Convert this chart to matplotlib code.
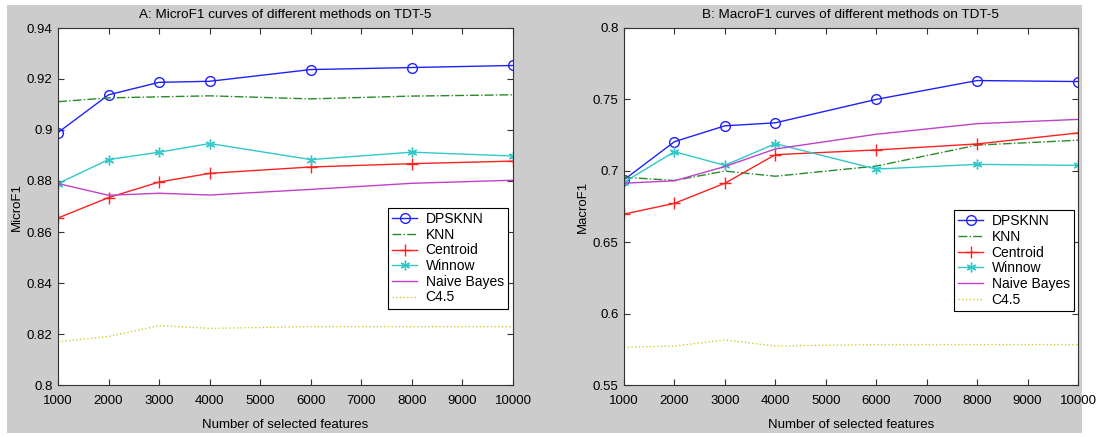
import matplotlib
matplotlib.use('Agg')
import matplotlib.pyplot as plt
from matplotlib.patches import Rectangle

plt.rcParams['font.family'] = ['Liberation Sans', 'DejaVu Sans']

features = [1000, 2000, 3000, 4000, 6000, 8000, 10000]
methods = ['DPSKNN', 'KNN', 'Centroid', 'Winnow', 'Naive Bayes', 'C4.5']

micro_dpsknn = [0.899, 0.9138, 0.9187, 0.9191, 0.9237, 0.9245, 0.9253]
micro_knn = [0.9111, 0.9126, 0.913, 0.9134, 0.9122, 0.9133, 0.9138]
micro_centroid = [0.8655, 0.8735, 0.8796, 0.883, 0.8855, 0.8868, 0.8878]
micro_winnow = [0.879, 0.8884, 0.8913, 0.8947, 0.8884, 0.8913, 0.8898]
micro_nb = [0.879, 0.8744, 0.8752, 0.8745, 0.8767, 0.8791, 0.8803]
micro_c45 = [0.817, 0.819, 0.8233, 0.8222, 0.8229, 0.8229, 0.8229]

macro_dpsknn = [0.6937, 0.7204, 0.7315, 0.7336, 0.75, 0.7632, 0.7625]
macro_knn = [0.6955, 0.6932, 0.6998, 0.6962, 0.7033, 0.718, 0.7214]
macro_centroid = [0.6697, 0.6772, 0.6913, 0.7113, 0.7146, 0.7188, 0.7265]
macro_winnow = [0.692, 0.7134, 0.7038, 0.719, 0.7012, 0.7045, 0.7038]
macro_nb = [0.6913, 0.693, 0.703, 0.7153, 0.7256, 0.733, 0.736]
macro_c45 = [0.5764, 0.5773, 0.5815, 0.5773, 0.5783, 0.5783, 0.5783]

micro_yticks = [0.8, 0.82, 0.84, 0.86, 0.88, 0.9, 0.92, 0.94]
micro_ylabels = ['0.8', '0.82', '0.84', '0.86', '0.88', '0.9', '0.92', '0.94']
macro_yticks = [0.55, 0.6, 0.65, 0.7, 0.75, 0.8]
macro_ylabels = ['0.55', '0.6', '0.65', '0.7', '0.75', '0.8']
xticks = list(range(1000, 10001, 1000))

styles = [
    dict(color='#2020ff', ls='-', marker='o', mfc='none', ms=7),
    dict(color='#2a8a2a', ls='-.', marker=None),
    dict(color='#ff2020', ls='-', marker='+', ms=8),
    dict(color='#30c8c8', ls='-', marker=(6, 2, 0), ms=7),
    dict(color='#c040c8', ls='-', marker=None),
    dict(color='#d0d030', ls=':', marker=None),
]

W, H = 1096, 437
fig = plt.figure(figsize=(W / 100, H / 100), dpi=100, facecolor='white')
fig.patches.append(Rectangle((7 / W, 1 - 433 / H), (1082 - 7) / W, (433 - 5) / H,
                             transform=fig.transFigure, facecolor='#cccccc',
                             edgecolor='none', zorder=-10))


def make_panel(left, right, series, yticks, ylabels, title, ylabel, leg_anchor):
    ax = fig.add_axes([left / W, 1 - 385 / H, (right - left) / W, (385 - 28) / H])
    for vals, name, st in zip(series, methods, styles):
        ax.plot(features, vals, color=st['color'], ls=st['ls'], marker=st['marker'],
                mfc=st.get('mfc', st['color']), ms=st.get('ms', 6), lw=1, label=name)
    ax.set_xlim(1000, 10000)
    ax.set_ylim(yticks[0], yticks[-1])
    ax.set_xticks(xticks)
    ax.set_xticklabels([str(x) for x in xticks])
    ax.set_yticks(yticks)
    ax.set_yticklabels(ylabels)
    ax.tick_params(direction='in', top=True, right=True, length=4, labelsize=9.5,
                   color='#333333')
    ax.tick_params(axis='x', pad=7)
    ax.tick_params(axis='y', pad=4)
    for s in ax.spines.values():
        s.set_color('#333333')
    ax.set_title(title, fontsize=9.7, pad=7)
    ax.set_xlabel('Number of selected features', fontsize=9.5, labelpad=9)
    ax.set_ylabel(ylabel, fontsize=9.5, labelpad=3)
    leg = ax.legend(loc='upper right', bbox_to_anchor=leg_anchor, fontsize=10,
                    fancybox=False, framealpha=1, edgecolor='black',
                    handlelength=1.8, labelspacing=0.12, borderpad=0.3,
                    handletextpad=0.6, borderaxespad=0)
    leg.get_frame().set_linewidth(0.8)
    return ax


make_panel(58, 513,
           [micro_dpsknn, micro_knn, micro_centroid, micro_winnow, micro_nb, micro_c45],
           micro_yticks, micro_ylabels,
           'A: MicroF1 curves of different methods on TDT-5', 'MicroF1', (0.989, 0.496))
make_panel(624, 1078,
           [macro_dpsknn, macro_knn, macro_centroid, macro_winnow, macro_nb, macro_c45],
           macro_yticks, macro_ylabels,
           'B: MacroF1 curves of different methods on TDT-5', 'MacroF1', (0.991, 0.49))

fig.savefig('out.png', dpi=100, facecolor=fig.get_facecolor())
